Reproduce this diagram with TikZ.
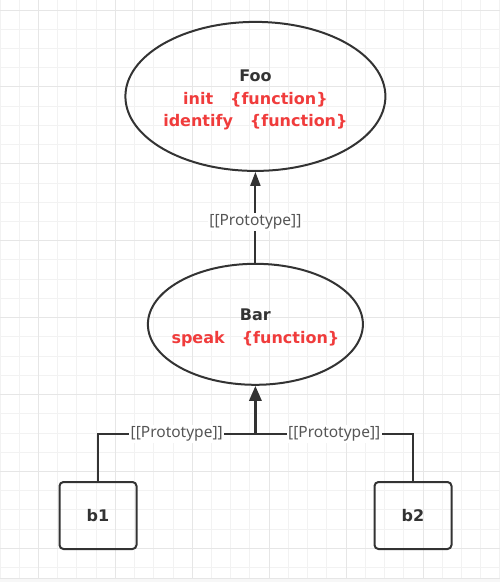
\documentclass[tikz,border=0pt]{standalone}
\usepackage{fontspec}
\setmainfont{Noto Sans}
\newfontfamily\objfont{DejaVu Sans}
\usepackage{tikz}
\usetikzlibrary{positioning, shapes.geometric, arrows.meta}

\definecolor{linegray}{HTML}{333333}
\definecolor{fnred}{HTML}{F03C3C}
\definecolor{labelgray}{HTML}{555555}
\definecolor{gridminor}{HTML}{F2F2F2}
\definecolor{gridmajor}{HTML}{E6E6E6}

\newcommand{\fngap}{\hspace{17pt}}

\begin{document}
\begin{tikzpicture}[x=1pt, y=-1pt,
    objnode/.style={ellipse, draw=linegray, line width=2pt, inner xsep=-20pt, inner ysep=0pt,
                    align=center, text=linegray, font=\objfont\fontsize{16}{22.5}\selectfont\bfseries},
    instbox/.style={rectangle, rounded corners=4pt, draw=linegray, line width=2pt,
                    minimum width=77pt, minimum height=67pt,
                    text=linegray, font=\objfont\fontsize{16}{22}\selectfont\bfseries},
    protolink/.style={draw=linegray, line width=2pt},
    protolabel/.style={fill=white, inner sep=1.5pt, text=labelgray, font=\fontsize{15.5}{18}\selectfont}]
    \useasboundingbox (0,0) rectangle (500,582);

    % Grid
    \fill[white] (0,0) rectangle (500,582);
    \foreach \i in {0,...,26} {
      \draw[gridminor, line width=1pt] (\i*19.23,0) -- (\i*19.23,578);
    }
    \foreach \j in {0,...,29} {
      \draw[gridminor, line width=1pt] (0,10+\j*19.23) -- (500,10+\j*19.23);
    }
    \foreach \i in {0,...,5} {
      \draw[gridmajor, line width=1pt] (38.46+\i*76.92,0) -- (38.46+\i*76.92,578);
    }
    \foreach \j in {0,...,7} {
      \draw[gridmajor, line width=1pt] (0,10+\j*76.92) -- (500,10+\j*76.92);
    }
    \fill[gray!6] (0,578) rectangle (500,582);
    \draw[gridmajor, line width=1pt] (0,578) -- (500,578);

    % Objects
    \node[objnode, minimum width=260pt, minimum height=149pt] (foo) at (255.4,96.4)
      {\rule{0pt}{19pt}Foo\\ \textcolor{fnred}{init\fngap\{function\}}\\ \textcolor{fnred}{identify\fngap\{function\}}};
    \node[objnode, minimum width=215pt, minimum height=121pt] (bar) at (255.4,324.3)
      {\rule{0pt}{19pt}Bar\\ \textcolor{fnred}{speak\fngap\{function\}}};

    % Instances
    \node[instbox] (b1) at (98,515.5) {b1};
    \node[instbox] (b2) at (413,515.5) {b2};

    % Prototype links
    \draw[protolink, -{Triangle[length=14pt, width=10pt]}] (bar) --
      node[protolabel, pos=0.45] {[[Prototype]]} (foo);
    \path (bar.south) ++(0,48) coordinate (join);
    \draw[protolink] (b1.north) |- node[protolabel, pos=0.75] {[[Prototype]]} (join);
    \draw[protolink] (b2.north) |- node[protolabel, pos=0.75] {[[Prototype]]} (join);
    \draw[protolink, line width=3pt, -{Triangle[length=15pt, width=12pt]}] (join) -- (bar);
  \end{tikzpicture}
\end{document}
